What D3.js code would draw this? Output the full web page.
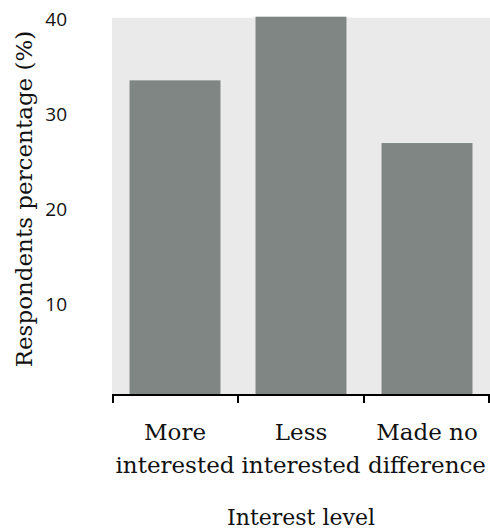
<!DOCTYPE html>
<html>
<head>
<meta charset="utf-8">
<script src="https://cdn.jsdelivr.net/npm/d3@7"></script>
<style>
  html, body { margin: 0; padding: 0; background: #fff; }
  svg { display: block; }
</style>
</head>
<body>
<div id="chart"></div>
<script>
const categories = [["More", "interested"], ["Less", "interested"], ["Made no", "difference"]];
const categoryKeys = ["More interested", "Less interested", "Made no difference"];
const values = [33.3, 40.0, 26.7];
const yTicks = [10, 20, 30, 40];
const yTitle = "Respondents percentage (%)";
const xTitle = "Interest level";

const W = 490, H = 532;
const serif = "DejaVu Serif, Liberation Serif, serif";
const sans = "Open Sans, Noto Sans, sans-serif";

const svg = d3.select("#chart").append("svg").attr("width", W).attr("height", H);

const x = d3.scaleBand().domain(categoryKeys).range([112, 490]).paddingInner(0.278).paddingOuter(0.139);
const y = d3.scaleLinear().domain([0, 40]).range([396.7, 16.7]);

svg.append("rect").attr("x", 112).attr("y", 17.7).attr("width", 378).attr("height", 394 - 17.7).attr("fill", "#eaeaea");

svg.selectAll("rect.bar").data(values).join("rect")
  .attr("class", "bar")
  .attr("x", (d, i) => x(categoryKeys[i]))
  .attr("width", x.bandwidth())
  .attr("y", d => y(d))
  .attr("height", d => Math.max(0, 394 - y(d)))
  .attr("fill", "#7f8683");

svg.selectAll("text.ytick").data(yTicks).join("text")
  .attr("class", "ytick")
  .attr("x", 67).attr("y", d => y(d) + 2.3)
  .attr("dy", "0.35em")
  .attr("text-anchor", "end")
  .attr("font-family", sans).attr("font-size", 19).attr("fill", "#111")
  .text(d => d);

const xa = svg.append("g");
xa.append("line").attr("x1", 112).attr("x2", 490).attr("y1", 395).attr("y2", 395).attr("stroke", "#000").attr("stroke-width", 2);
const step = x.step();
const bounds = d3.range(categoryKeys.length + 1).map(i => x(categoryKeys[0]) - step * x.paddingOuter() + i * step);
xa.selectAll("line.tk").data(bounds).join("line")
  .attr("class", "tk")
  .attr("x1", d => Math.min(489, Math.max(113, d))).attr("x2", d => Math.min(489, Math.max(113, d)))
  .attr("y1", 394).attr("y2", 403)
  .attr("stroke", "#000").attr("stroke-width", 2);

const cl = svg.selectAll("text.cat").data(categories).join("text")
  .attr("class", "cat")
  .attr("text-anchor", "middle")
  .style("font-family", serif).attr("font-size", 23).attr("fill", "#111");
cl.each(function(d, i) {
  const t = d3.select(this);
  const cx = x(categoryKeys[i]) + x.bandwidth() / 2;
  d.forEach((line, j) => {
    t.append("tspan").attr("x", cx).attr("y", 440 + j * 33).text(line);
  });
});

svg.append("text")
  .attr("x", 301).attr("y", 525)
  .attr("text-anchor", "middle")
  .style("font-family", serif).attr("font-size", 22).attr("fill", "#111")
  .text(xTitle);

svg.append("text")
  .attr("transform", "translate(32,199) rotate(-90)")
  .attr("text-anchor", "middle")
  .style("font-family", serif).attr("font-size", 23).attr("fill", "#111")
  .text(yTitle);
</script>
</body>
</html>
